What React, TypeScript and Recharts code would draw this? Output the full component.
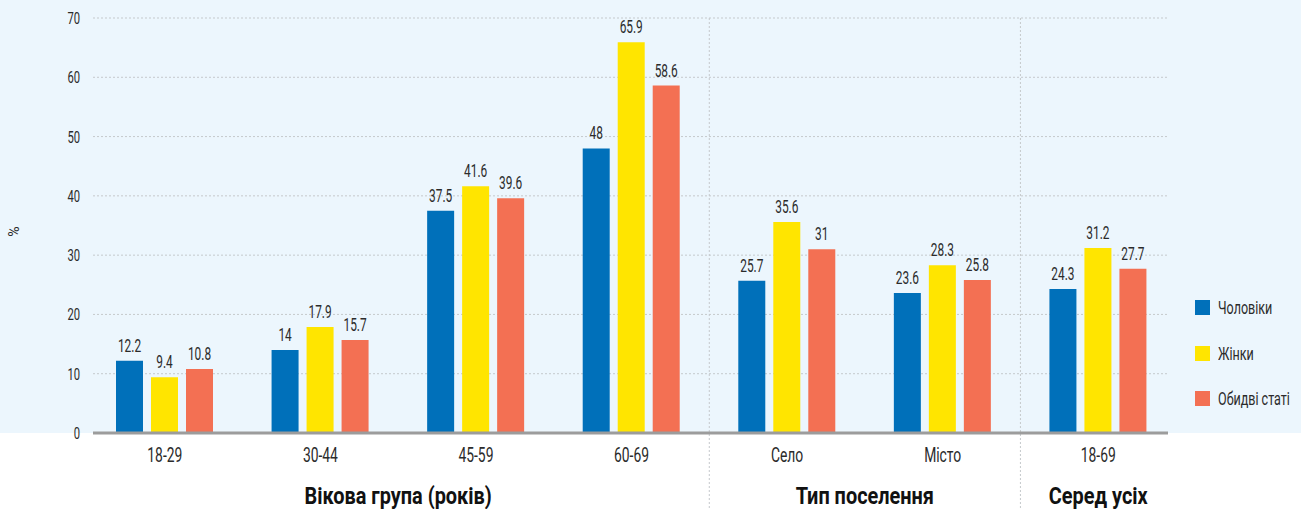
import { Bar, BarChart, CartesianGrid, LabelList, ReferenceLine, XAxis, YAxis } from 'recharts';

const categories = ['18-29', '30-44', '45-59', '60-69', 'Село', 'Місто', '18-69'];
const men = [12.2, 14, 37.5, 48, 25.7, 23.6, 24.3];
const women = [9.4, 17.9, 41.6, 65.9, 35.6, 28.3, 31.2];
const both = [10.8, 15.7, 39.6, 58.6, 31, 25.8, 27.7];
const yTicks = [0, 10, 20, 30, 40, 50, 60, 70];

// groups of categories under the x axis: title + how many categories each covers
const groupTitles = ['Вікова група (років)', 'Тип поселення', 'Серед усіх'];
const groupSizes = [4, 2, 1];

const series = [
  { key: 'men', name: 'Чоловіки', color: '#0070ba' },
  { key: 'women', name: 'Жінки', color: '#ffe500' },
  { key: 'both', name: 'Обидві статі', color: '#f37053' },
];

const data = categories.map((cat, i) => ({ cat, men: men[i], women: women[i], both: both[i] }));

// first category of each group -> group index
const groupStarts = new Map<string, number>();
groupSizes.reduce((start, size, g) => {
  groupStarts.set(categories[start], g);
  return start + size;
}, 0);
// a divider at the start of every group but the first
const dividers = [...groupStarts.keys()].slice(1);

const FONT = 'Roboto, "Noto Sans", sans-serif';
const NARROW = 0.66; // horizontal squeeze to get a condensed face
const TEXT = '#2b2b2b';
const GRID = '#c5c9cc';
const W = 1301;
const H = 509;
const BAND_PAD = { left: -6, right: -8 };

// condensed svg text anchored at (x, y)
const CText = ({ x, y, size, anchor = 'middle', weight = 400, fill = TEXT, dy, squeeze = NARROW, children }: any) => (
  <text
    transform={`translate(${x} ${y}) scale(${squeeze} 1)`}
    dy={dy}
    textAnchor={anchor}
    fill={fill}
    fontFamily={FONT}
    fontSize={size}
    fontWeight={weight}
  >
    {children}
  </text>
);

const CatTick = ({ x, y, payload }: any) => (
  <CText x={x} y={y} dy="0.71em" size={21}>
    {payload.value}
  </CText>
);

// group title centred under its run of categories (payload.offset is half a band)
const GroupTick = ({ x, y, payload }: any) => {
  const g = groupStarts.get(payload.value);
  if (g === undefined) return null;
  const half = payload.offset ?? 0;
  return (
    <CText x={x + (groupSizes[g] - 1) * half} y={y} dy="0.71em" size={24} weight={700} fill="#111" squeeze={0.83}>
      {groupTitles[g]}
    </CText>
  );
};

const ValueTick = ({ x, y, payload }: any) => (
  <CText x={x} y={y} dy="0.35em" size={17} anchor="end">
    {payload.value}
  </CText>
);

const ValueLabel = ({ x, y, width, value }: any) => (
  <CText x={x + width / 2} y={y - 9} size={18}>
    {value}
  </CText>
);

// divider from the top of the plot down to the bottom edge
const Divider = (p: any) => (
  <line x1={p.x1} y1={Math.min(p.y1, p.y2)} x2={p.x2} y2={H} stroke={GRID} strokeDasharray="2 2" />
);

export default function App() {
  return (
    <div
      style={{
        position: 'absolute',
        left: 0,
        top: 0,
        width: W,
        height: H,
        background: 'linear-gradient(to bottom, #ecf6fd 0, #ecf6fd 433px, #ffffff 433px)',
      }}
    >
      <BarChart width={W} height={H} data={data} margin={{ top: 18, right: 133, bottom: 0, left: 0 }} barSize={27} barGap={8}>
        <CartesianGrid vertical={false} stroke={GRID} strokeDasharray="2 2" />
        {dividers.map((d) => (
          <ReferenceLine key={d} x={d} position="start" ifOverflow="visible" shape={Divider} />
        ))}
        <XAxis
          dataKey="cat"
          padding={BAND_PAD}
          height={36}
          tickSize={0}
          tickMargin={14}
          axisLine={{ stroke: '#9c9c9c', strokeWidth: 3 }}
          tick={<CatTick />}
        />
        <XAxis
          xAxisId="grp"
          dataKey="cat"
          padding={BAND_PAD}
          height={40}
          tickSize={0}
          tickMargin={18}
          axisLine={false}
          interval={0}
          tick={<GroupTick />}
        />
        <YAxis
          width={93}
          domain={[0, 70]}
          ticks={yTicks}
          tickSize={0}
          tickMargin={13}
          axisLine={false}
          tick={<ValueTick />}
          label={{
            content: ({ viewBox }: any) => {
              const cx = viewBox.x + 14;
              const cy = viewBox.y + viewBox.height / 2 + 6;
              return (
                <text x={cx} y={cy} textAnchor="middle" dominantBaseline="central" transform={`rotate(-90 ${cx} ${cy})`} fill={TEXT} fontFamily={FONT} fontSize={14}>
                  %
                </text>
              );
            },
          }}
        />
        {series.map((s) => (
          <Bar key={s.key} dataKey={s.key} name={s.name} fill={s.color} isAnimationActive={false}>
            <LabelList dataKey={s.key} content={<ValueLabel />} />
          </Bar>
        ))}
      </BarChart>
      <div style={{ position: 'absolute', left: 1195, top: 285, fontFamily: FONT, fontSize: 19, color: TEXT }}>
        {series.map((s) => (
          <div key={s.key} style={{ display: 'flex', alignItems: 'center', height: 45.5, whiteSpace: 'nowrap' }}>
            <span style={{ width: 15, height: 15, background: s.color, marginRight: 8, flex: 'none' }} />
            <span style={{ display: 'inline-block', transform: `scaleX(${NARROW})`, transformOrigin: 'left center' }}>{s.name}</span>
          </div>
        ))}
      </div>
    </div>
  );
}
